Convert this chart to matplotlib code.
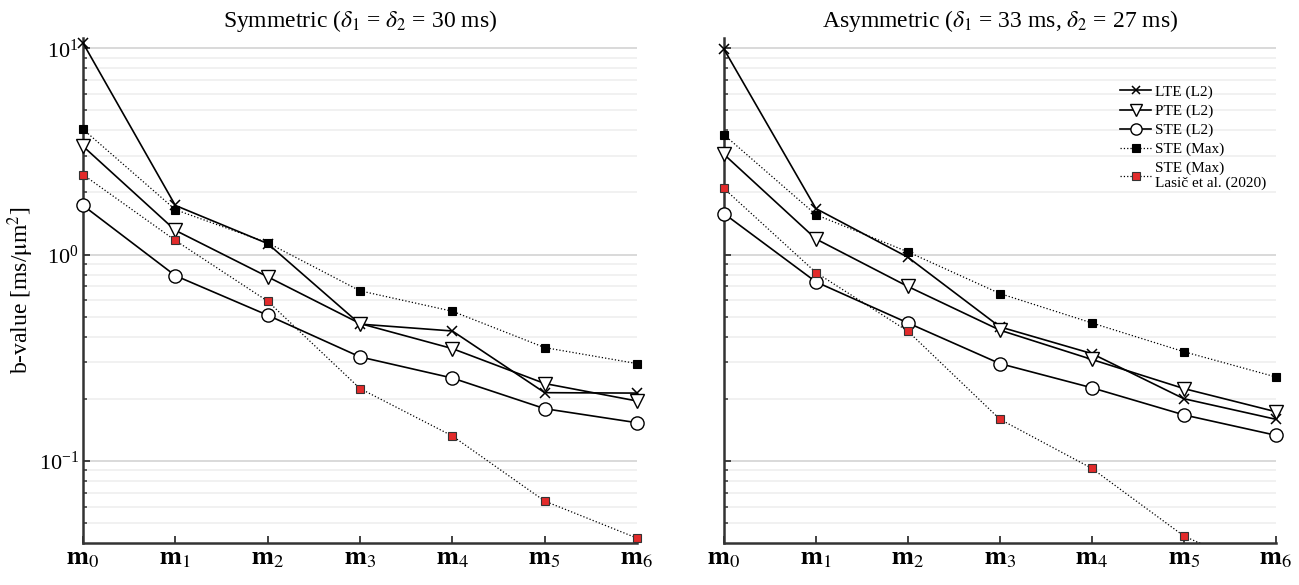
import matplotlib
matplotlib.use("Agg")
import matplotlib.pyplot as plt
from matplotlib.transforms import Bbox, TransformedBbox
from matplotlib.ticker import LogLocator, NullFormatter, FixedLocator

plt.rcParams['font.family'] = ['Liberation Serif', 'DejaVu Serif']
plt.rcParams['mathtext.fontset'] = 'stix'

moments = [0, 1, 2, 3, 4, 5, 6]
tick_labels = [r'$\mathbf{m}_{0}$', r'$\mathbf{m}_{1}$', r'$\mathbf{m}_{2}$', r'$\mathbf{m}_{3}$',
               r'$\mathbf{m}_{4}$', r'$\mathbf{m}_{5}$', r'$\mathbf{m}_{6}$']

# Symmetric
sym_lte = [10.6, 1.73, 1.13, 0.46, 0.426, 0.214, 0.213]
sym_pte = [3.35, 1.31, 0.78, 0.463, 0.35, 0.237, 0.195]
sym_ste = [1.73, 0.79, 0.508, 0.319, 0.252, 0.179, 0.153]
sym_ste_max = [4.05, 1.65, 1.14, 0.667, 0.531, 0.354, 0.296]
sym_lasic = [2.44, 1.17, 0.594, 0.224, 0.132, 0.0638, 0.0422]

# Asymmetric
asy_lte = [9.9, 1.67, 0.97, 0.446, 0.331, 0.200, 0.159]
asy_pte = [3.06, 1.19, 0.70, 0.43, 0.31, 0.224, 0.173]
asy_ste = [1.58, 0.737, 0.466, 0.296, 0.226, 0.167, 0.133]
asy_ste_max = [3.81, 1.56, 1.03, 0.647, 0.466, 0.338, 0.255]
asy_lasic = [2.09, 0.818, 0.425, 0.159, 0.0919, 0.0432, 0.0272]

labels = ['LTE (L2)', 'PTE (L2)', 'STE (L2)', 'STE (Max)', 'STE (Max)\nLasič et al. (2020)']
titles = [r'Symmetric ($\delta_{1}$ = $\delta_{2}$ = 30 ms)',
          r'Asymmetric ($\delta_{1}$ = 33 ms, $\delta_{2}$ = 27 ms)']

YMIN, YMAX = 0.0401, 11.2

fig = plt.figure(figsize=(12.99, 5.85), dpi=100)
ax1 = fig.add_axes([0.0639, 0.0723, 0.4265, 0.8626])
ax2 = fig.add_axes([0.5573, 0.0723, 0.4249, 0.8626])

datasets = [(sym_lte, sym_pte, sym_ste, sym_ste_max, sym_lasic),
            (asy_lte, asy_pte, asy_ste, asy_ste_max, asy_lasic)]

styles = [
    dict(color='black', ls='-', lw=1.2, marker='x', ms=6.5, mew=1.1, mfc='black', mec='black'),
    dict(color='black', ls='-', lw=1.2, marker='v', ms=10, mew=1.0, mfc='white', mec='black'),
    dict(color='black', ls='-', lw=1.2, marker='o', ms=9.5, mew=1.0, mfc='white', mec='black'),
    dict(color='black', ls=':', lw=0.9, marker='s', ms=6.3, mew=0.8, mfc='black', mec='black'),
    dict(color='black', ls=':', lw=0.9, marker='s', ms=6.3, mew=0.8, mfc='#e32b2b', mec='#333333'),
]

for i, (ax, data) in enumerate(zip([ax1, ax2], datasets)):
    ax.set_yscale('log')
    ax.set_xlim(0, 6)
    ax.set_ylim(YMIN, YMAX)
    clip = TransformedBbox(Bbox([[-0.05, 0.0], [1.05, 1.05]]), ax.transAxes)
    for vals, st, lab in zip(data, styles, labels):
        ln, = ax.plot(moments, vals, label=lab, zorder=3, **st)
        ln.set_clip_box(clip)
    # grid
    ax.yaxis.set_major_locator(LogLocator(base=10, numticks=10))
    ax.yaxis.set_minor_locator(LogLocator(base=10, subs=[2, 3, 4, 5, 6, 7, 8, 9], numticks=20))
    ax.yaxis.set_minor_formatter(NullFormatter())
    ax.grid(True, which='major', axis='y', color='#d9d9d9', lw=1.4, zorder=0)
    ax.grid(True, which='minor', axis='y', color='#ededed', lw=1.1, zorder=0)
    ax.set_axisbelow(True)
    ax.xaxis.set_major_locator(FixedLocator(moments))
    ax.set_xticklabels(tick_labels, fontsize=19)
    ax.tick_params(axis='x', direction='in', length=5, width=1.3, color='#333333', pad=4)
    ax.tick_params(axis='y', which='major', direction='in', length=5, width=1.3, color='#333333',
                   labelsize=16, pad=3)
    ax.tick_params(axis='y', which='minor', direction='in', length=3, width=1.1, color='#333333')
    for s in ['top', 'right']:
        ax.spines[s].set_visible(False)
    for s in ['left', 'bottom']:
        ax.spines[s].set_linewidth(1.8)
        ax.spines[s].set_color('#333333')
    ax.set_title(titles[i], fontsize=17, pad=8)

ax1.set_ylabel(r'b-value [ms/$\mathrm{\mu}$m$^{2}$]', fontsize=17, labelpad=2)
ax2.tick_params(axis='y', which='both', labelleft=False)

leg = ax2.legend(loc='upper right', bbox_to_anchor=(1.0, 0.925), frameon=False, fontsize=11,
                 handlelength=2.0, handletextpad=0.3, labelspacing=0.34, borderaxespad=0.2,
                 markerscale=0.85)

fig.savefig('out.png', dpi=100)
